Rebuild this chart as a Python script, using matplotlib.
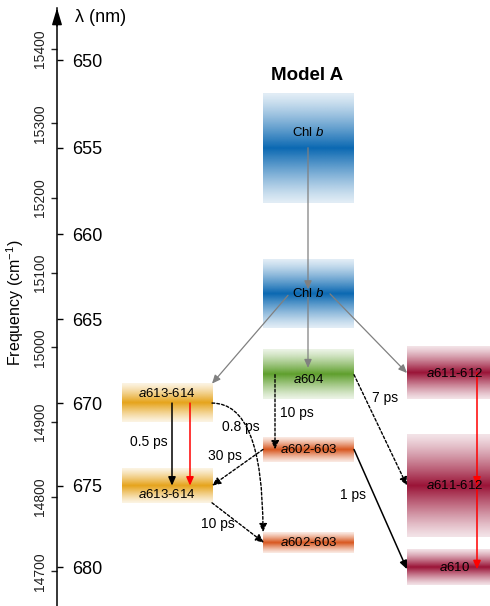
import numpy as np
import matplotlib.pyplot as plt
from matplotlib.colors import to_rgb

plt.rcParams['font.family'] = ['Liberation Sans', 'DejaVu Sans']
plt.rcParams['mathtext.fontset'] = 'custom'
plt.rcParams['mathtext.rm'] = 'Liberation Sans'
plt.rcParams['mathtext.it'] = 'Liberation Sans:italic'

# pigment levels (Model A)
band_label = ['Chl $b$', 'Chl $b$', '$a$604', '$a$613-614', '$a$613-614',
              '$a$602-603', '$a$602-603', '$a$611-612', '$a$611-612', '$a$610']
band_nm = [655.0, 663.5, 668.3, 670.0, 675.0, 672.8, 678.5, 668.2, 675.0, 680.0]
band_width = [147, 92, 66, 52, 46, 33, 28, 70, 137, 47]   # cm-1
band_col = [1, 1, 1, 0, 0, 1, 1, 2, 2, 2]
band_color = ['#0a68b2', '#0a68b2', '#5e9f2c', '#e6a31a', '#e6a31a',
              '#d8561e', '#d8561e', '#9a1236', '#9a1236', '#9a1236']

# transfer times
times = ['10 ps', '7 ps', '1 ps', '0.5 ps', '0.8 ps', '30 ps', '10 ps']

freq_ticks = [14700, 14800, 14900, 15000, 15100, 15200, 15300, 15400]
wl_ticks = [650, 655, 660, 665, 670, 675, 680]

px_per_cm = 0.747
f650 = 1e7 / 650
f_top = f650 + (60 - 8) / px_per_cm
f_bot = f650 - (606 - 60) / px_per_cm

col_x = [(122, 212), (263, 354), (407, 500)]
label_dy = [21, 0, -7, 13, -12, 0, 0, 0, 0, 0]

fig = plt.figure(figsize=(4.9, 6.06), dpi=100)
ax = fig.add_axes([57 / 490, 0, 433 / 490, 598 / 606])


def lvl(i):
    return 1e7 / band_nm[i]


def top(i):
    return lvl(i) + band_width[i] / 2


def bot(i):
    return lvl(i) - band_width[i] / 2


# blurred bands
t = np.linspace(-1, 1, 200)
alpha = 0.12 + 0.88 * (1 - np.abs(t)) ** 1.2
for i in range(len(band_nm)):
    img = np.zeros((len(t), 1, 4))
    img[..., :3] = to_rgb(band_color[i])
    img[:, 0, 3] = alpha
    x0, x1 = col_x[band_col[i]]
    ax.imshow(img, extent=(x0, x1, bot(i), top(i)), origin='lower',
              aspect='auto', interpolation='bilinear', zorder=1)
    xc = (x0 + min(x1, 490)) / 2 + (6 if band_col[i] == 2 else 0)
    ax.text(xc, lvl(i) + label_dy[i], band_label[i], ha='center', va='center',
            fontsize=9.5, zorder=4)


def arrow(x0, y0, x1, y1, color='k', ls='-', lw=1.0, cs='arc3'):
    ax.annotate('', xy=(x1, y1), xytext=(x0, y0),
                arrowprops=dict(arrowstyle='-|>,head_length=0.5,head_width=0.22',
                                color=color, lw=lw, linestyle=ls,
                                shrinkA=0, shrinkB=0, mutation_scale=10,
                                connectionstyle=cs), zorder=3)


grey = '#808080'
dot = (0, (2, 1.5))
arrow(308, lvl(0), 308, lvl(1) + 6, grey, lw=0.9)
arrow(308, lvl(1), 308, lvl(2) + 9, grey, lw=0.9)
arrow(288, lvl(1) - 2, 212, top(3), grey, lw=0.9)
arrow(330, lvl(1), 407, lvl(7), grey, lw=0.9)

arrow(275, lvl(2), 275, lvl(5), ls=dot)
arrow(354, lvl(2), 407, lvl(8), ls=dot)
arrow(354, lvl(5), 407, lvl(9) - 3, lw=1.1)

arrow(172, lvl(3), 172, lvl(4), lw=1.1)
arrow(190, lvl(3), 190, lvl(4), 'red', lw=1.1)
arrow(477, lvl(7), 477, lvl(8), 'red', lw=1.1)
arrow(477, lvl(8), 477, lvl(9) - 3, 'red', lw=1.1)

arrow(212, lvl(3), 263, top(6), ls=dot, cs='angle3,angleA=0,angleB=90')
arrow(263, lvl(5), 212, lvl(4), ls=dot)
arrow(212, bot(4), 264, lvl(6), ls=dot)

tkw = dict(fontsize=10, va='center', zorder=4)
ax.text(280, 14912, times[0], ha='left', **tkw)
ax.text(372, 14932, times[1], ha='left', **tkw)
ax.text(353, 14802, times[2], ha='center', **tkw)
ax.text(149, 14873, times[3], ha='center', **tkw)
ax.text(241, 14893, times[4], ha='center', **tkw)
ax.text(225, 14855, times[5], ha='center', **tkw)
ax.text(218, 14764, times[6], ha='center', **tkw)

ax.text(307, 15364, 'Model A', ha='center', va='center', fontsize=13.5,
        fontweight='bold')

# axes: frequency on the left, wavelength on the right of the same line
ax.set_xlim(57, 490)
ax.set_ylim(f_bot, f_top)
for s in ['top', 'right', 'bottom']:
    ax.spines[s].set_visible(False)
ax.spines['left'].set_linewidth(1.1)
ax.set_xticks([])
ax.set_yticks(freq_ticks)
ax.set_yticklabels([str(v) for v in freq_ticks], rotation=90, va='center')
ax.tick_params(axis='y', direction='out', length=4, width=1, labelsize=10,
               pad=3, colors='#222222')
ax.set_ylabel('Frequency (cm$^{-1}$)', fontsize=11.5)
ax.yaxis.label.set_va('center')
ax.yaxis.set_label_coords(-0.097, 0.507)

ax2 = ax.twinx()
ax2.set_ylim(ax.get_ylim())
ax2.spines['right'].set_position(('axes', 0))
for s in ax2.spines.values():
    s.set_visible(False)
ax2.set_yticks([1e7 / w for w in wl_ticks])
ax2.set_yticklabels([str(w) for w in wl_ticks])
ax2.tick_params(axis='y', direction='out', length=4, width=1, labelsize=13,
                pad=7)

ax.annotate('', xy=(0, 1), xytext=(0, 0.97), xycoords='axes fraction',
            arrowprops=dict(arrowstyle='-|>,head_length=1.0,head_width=0.3',
                            color='k', lw=1.1, mutation_scale=10,
                            shrinkA=0, shrinkB=0))
fig.text(75 / 490, 1 - 18 / 606, 'λ (nm)', ha='left', va='center', fontsize=13)

fig.savefig('out.png', dpi=100)
